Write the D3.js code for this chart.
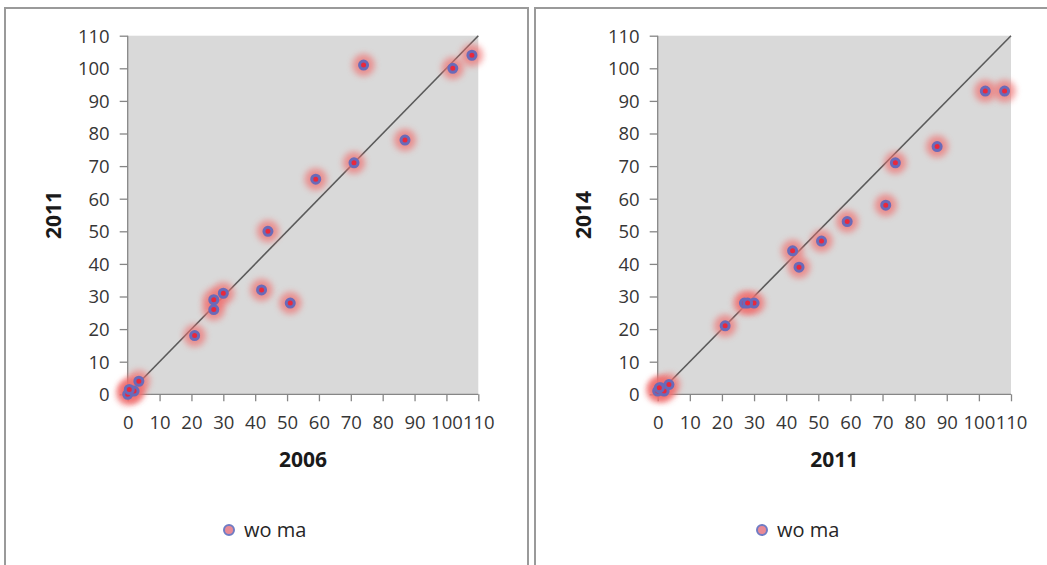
<!DOCTYPE html>
<html><head><meta charset="utf-8">
<script src="https://cdn.jsdelivr.net/npm/d3@7"></script>
<style>
body{margin:0;background:#fff;}
svg{display:block;font-family:"Open Sans","Noto Sans",sans-serif;}
</style></head>
<body>
<svg id="c" width="1047" height="565"></svg>
<script>
// ---- data ----
const ticks = [0,10,20,30,40,50,60,70,80,90,100,110];
const leftX  = [74,102,108,87,71,59,44,42,51,30,27,27,21,3.5,1,0,2,0.5];
const leftY  = [101,100,104,78,71,66,50,32,28,31,29,26,18,4,1,0,1,1.5];
const rightX = [74,102,108,87,71,59,51,42,44,30,27,28,21,3.5,1,0,2,0.5];
const rightY = [71,93,93,76,58,53,47,44,39,28,28,28,21,3,2,1,1,2];
const xTitles = ["2006","2011"];
const yTitles = ["2011","2014"];
const seriesName = "wo ma";

const svg = d3.select("#c");
const defs = svg.append("defs");
defs.append("filter").attr("id","glow").attr("x","-1").attr("y","-1").attr("width","3").attr("height","3")
  .append("feGaussianBlur").attr("stdDeviation",3);

// frames
svg.append("rect").attr("x",5).attr("y",8).attr("width",523).attr("height",600)
  .attr("fill","none").attr("stroke","#9a9a9a").attr("stroke-width",2);
svg.append("rect").attr("x",535).attr("y",8).attr("width",600).attr("height",600)
  .attr("fill","none").attr("stroke","#9a9a9a").attr("stroke-width",2);

const panels = [
  {x0:127.7, x1:478.3, xs:leftX, ys:leftY, xt:xTitles[0], yt:yTitles[0], ytx:54, leg:229},
  {x0:657.7, x1:1011, xs:rightX, ys:rightY, xt:xTitles[1], yt:yTitles[1], ytx:584, leg:762}
];
const yTop = 35.7, yBot = 394.3;

panels.forEach(p => {
  const x = d3.scaleLinear().domain([0,110]).range([p.x0,p.x1]);
  const y = d3.scaleLinear().domain([0,110]).range([yBot,yTop]);
  const g = svg.append("g");
  g.append("rect").attr("x",p.x0).attr("y",yTop).attr("width",p.x1-p.x0).attr("height",yBot-yTop)
    .attr("fill","#d9d9d9");

  const xa = g.append("g").attr("transform",`translate(0,${yBot})`)
    .call(d3.axisBottom(x).tickValues(ticks).tickSize(7).tickPadding(15).tickFormat(d3.format("d")));
  const ya = g.append("g").attr("transform",`translate(${p.x0},0)`)
    .call(d3.axisLeft(y).tickValues(ticks).tickSize(8).tickPadding(10).tickFormat(d3.format("d")));
  [xa,ya].forEach(a=>{
    a.selectAll("path,line").attr("stroke","#868686").attr("stroke-width",1.3);
    a.select(".domain").attr("d", a===xa ? `M${p.x0},0H${p.x1}` : `M0,${yBot}V${yTop}`);
    a.selectAll("text").attr("fill","#363636").style("font-size","18.5px").style("font-family","\"Open Sans\",sans-serif");
  });
  ya.selectAll("text").attr("dy","0.35em");

  // diagonal
  g.append("line").attr("x1",x(0)).attr("y1",y(0)).attr("x2",x(110)).attr("y2",y(110))
    .attr("stroke","#5a5a5a").attr("stroke-width",1.6);

  const pts = p.xs.map((v,i)=>[v,p.ys[i]]);
  g.append("g").selectAll("circle").data(pts).join("circle")
    .attr("cx",d=>x(d[0])).attr("cy",d=>y(d[1])).attr("r",11)
    .attr("fill","#f07070").attr("opacity",0.7).attr("filter","url(#glow)");
  g.append("g").selectAll("circle").data(pts).join("circle")
    .attr("cx",d=>x(d[0])).attr("cy",d=>y(d[1])).attr("r",4)
    .attr("fill","#e8283c").attr("stroke","#6a6ab8").attr("stroke-width",3);

  // titles
  g.append("text").attr("x",(p.x0+p.x1)/2).attr("y",467).attr("text-anchor","middle")
    .style("font-size","21px").style("font-weight","bold").attr("fill","#1a1a1a").text(p.xt);
  g.append("text").attr("transform",`translate(${p.ytx},${(yTop+yBot)/2}) rotate(-90)`)
    .attr("dy","0.35em").attr("text-anchor","middle")
    .style("font-size","21px").style("font-weight","bold").attr("fill","#1a1a1a").text(p.yt);

  // legend
  g.append("circle").attr("cx",p.leg).attr("cy",530).attr("r",5)
    .attr("fill","#e98a96").attr("stroke","#6f7cc4").attr("stroke-width",2);
  g.append("text").attr("x",p.leg+15).attr("y",530).attr("dy","0.35em")
    .style("font-size","20px").attr("fill","#262626").text(seriesName);
});
</script>
</body></html>
